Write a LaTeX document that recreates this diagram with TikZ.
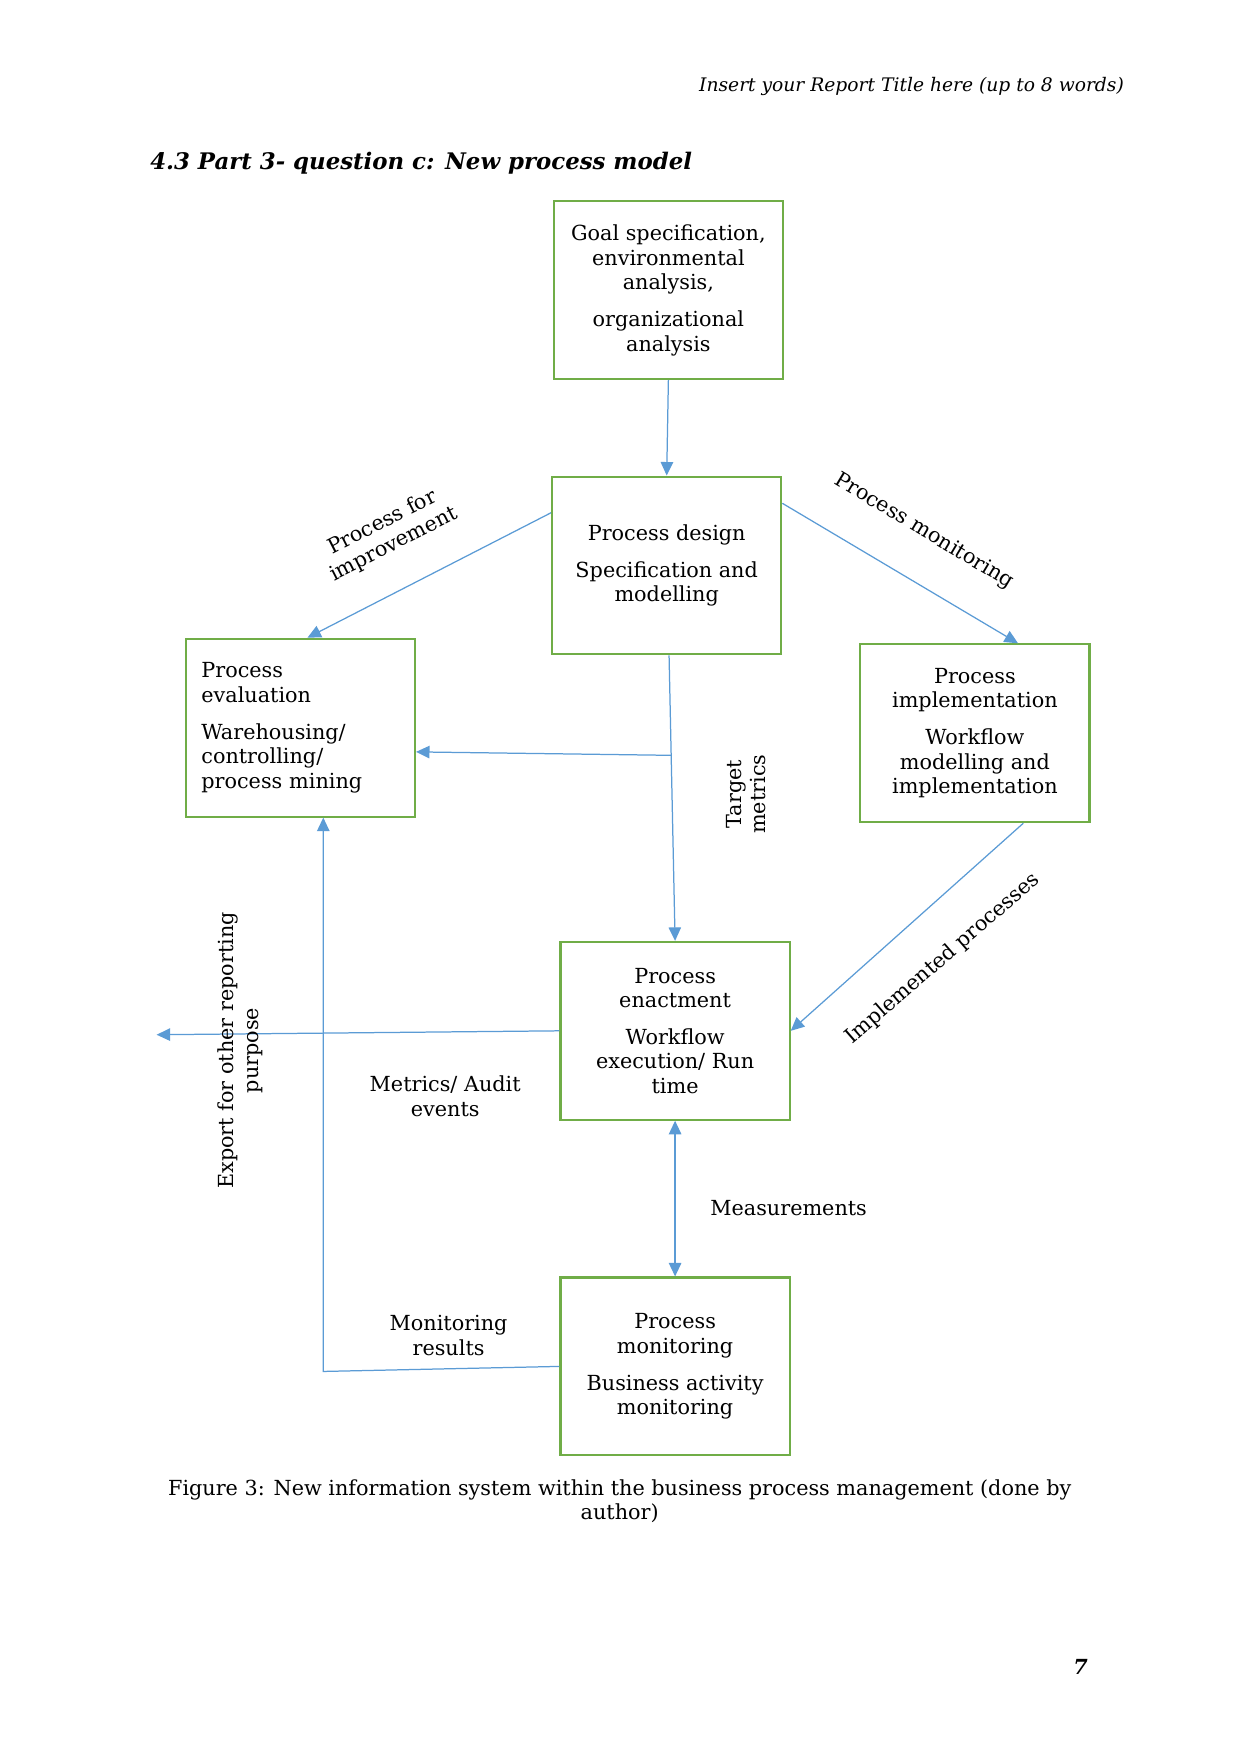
\documentclass[tikz,border=0pt]{standalone}
\usepackage{fontspec}
\setmainfont{DejaVu Serif}
\usetikzlibrary{arrows.meta,calc}

\definecolor{boxgreen}{RGB}{112,173,71}
\definecolor{linkblue}{RGB}{91,155,213}

\tikzset{
  stage/.style={draw=boxgreen, line width=1pt, minimum width=3.88cm, minimum height=3.01cm,
    align=center, inner sep=2pt, font=\fontsize{10}{11.8}\selectfont},
  link/.style={draw=linkblue, line width=0.6pt},
  linkarrow/.style={link, -{Triangle[length=6.5pt,width=6pt]}},
  tag/.style={align=center, font=\fontsize{10}{11.8}\selectfont}
}

\begin{document}
\begin{tikzpicture}[x=0.01894cm, y=-0.01894cm]
\useasboundingbox (0,0) rectangle (1109,1568);

% page header and heading
\node[anchor=east, inner sep=0pt, font=\fontsize{9}{11}\selectfont\itshape] (header) at (1005,77) {Insert your Report Title here (up to 8 words)};
\node[anchor=west, inner sep=0pt, font=\fontsize{11}{13}\selectfont\bfseries\itshape] (heading) at (134,146) {4.3 Part 3- question c: New process model};

% the six stages
\node[stage] (goal) at (597.5,259.5) {Goal specification,\\ environmental\\ analysis,\\[6pt] organizational\\ analysis};
\node[stage] (design) at (596,505.5) {Process design\\[6pt] Specification and\\ modelling};
\node[stage, align=left, text width=3.35cm] (eval) at (268.5,650.5) {Process\\ evaluation\\[6pt] Warehousing/\\ controlling/\\ process mining};
\node[stage] (impl) at (871.5,655.5) {Process\\ implementation\\[6pt] Workflow\\ modelling and\\ implementation};
\node[stage] (enact) at (603.5,921.5) {Process\\ enactment\\[6pt] Workflow\\ execution/ Run\\ time};
\node[stage] (monitor) at (603.5,1221.5) {Process\\ monitoring\\[6pt] Business activity\\ monitoring};

% free ends of connectors
\coordinate (export) at (140,925);
\coordinate (mr) at (289,1226);
\coordinate (tm) at ($([xshift=0.04cm]design.south)!0.35!(enact.north)$);

% connectors
\draw[linkarrow] (goal.south) -- (design.north);
\draw[linkarrow] ([yshift=-0.63cm]design.north west) -- ([xshift=0.12cm]eval.north);
\draw[linkarrow] ([yshift=-0.47cm]design.north east) -- ([xshift=0.73cm]impl.north);
\draw[linkarrow] ([xshift=0.04cm]design.south) -- (enact.north);
\draw[linkarrow] (tm) -- ([yshift=-0.41cm]eval.east);
\draw[linkarrow] ([xshift=0.82cm]impl.south) -- (enact.east);
\draw[linkarrow] (enact.west) -- (export);
\draw[linkarrow] (monitor.west) -- (mr) -- (mr |- eval.south);
\draw[link, {Triangle[length=6.5pt,width=6pt]}-{Triangle[length=6.5pt,width=6pt]}] (enact.south) -- (monitor.north);

% connector labels
\node[tag, rotate=27] (improve) at (347,477) {Process for\\ improvement};
\node[tag, rotate=-31] (monlabel) at (826,475) {Process monitoring};
\node[tag, rotate=90] (target) at (667,710) {Target\\ metrics};
\node[tag, rotate=41] (implemented) at (843,857) {Implemented processes};
\node[tag, rotate=90] (exportlabel) at (215,939) {Export for other reporting\\ purpose};
\node[tag] (audit) at (398,980) {Metrics/ Audit\\ events};
\node[tag] (results) at (401,1194) {Monitoring\\ results};
\node[tag] (measure) at (705,1080) {Measurements};

% caption and page number
\node[tag] (caption) at (554,1342) {Figure 3: New information system within the business process management (done by\\ author)};
\node[font=\fontsize{10}{12}\selectfont\bfseries\itshape] (page) at (966,1490) {7};
\end{tikzpicture}
\end{document}
